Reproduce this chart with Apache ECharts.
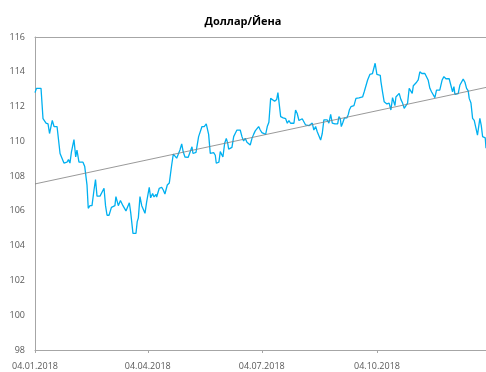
<!DOCTYPE html>
<html>
<head>
<meta charset="utf-8">
<title>Доллар/Йена</title>
<script src="https://cdn.jsdelivr.net/npm/echarts@6.0.0/dist/echarts.min.js"></script>
<style>
html, body { margin: 0; padding: 0; background: #fff; }
#chart { width: 486px; height: 372px; }
</style>
</head>
<body>
<div id="chart"></div>
<script>
// x = days since 04.01.2018
var dayOffsets = [
  0, 1.2, 4.8, 6.4, 8.8, 10.4, 11.6, 13.8, 15.2, 17.6,
  18.8, 20, 21.5, 23.1, 25.5, 26.7, 27.9, 29.1, 31.1, 31.9,
  32.5, 33.5, 35.1, 38.3, 39.7, 41.5, 42.5, 43.9, 45.5, 47.1,
  48.3, 49.5, 51.9, 55.1, 56.3, 57.5, 59.1, 61, 62.2, 63.8,
  64.6, 66.5, 68.2, 70.2, 72.6, 75.3, 76.4, 78.2, 80.6, 81.6,
  82.5, 83.8, 85.2, 86.4, 87.8, 89.1, 91.2, 92.3, 93.9, 95,
  96.6, 97.1, 99.2, 101.1, 102.4, 103.7, 105.6, 107.2, 108.3, 109.1,
  110.4, 111.7, 113.1, 114.4, 115.7, 117.1, 118.3, 119.7, 122.3, 123.7,
  125.3, 126.1, 128.5, 130.6, 131.9, 133.3, 135.1, 136.7, 137.8, 138.6,
  139.9, 141.2, 142.6, 143.9, 144.7, 145.8, 146.8, 147.9, 149, 150,
  151.4, 152.7, 153.8, 154.6, 155.9, 157.2, 158.6, 159.8, 161.2, 163.8,
  165.2, 166.5, 167.8, 169.2, 170.5, 171.8, 173.2, 174.5, 175.8, 177.2,
  178.5, 179.8, 181.1, 182.5, 184.1, 185.4, 186.7, 188.1, 189.4, 191.3,
  192.9, 193.9, 194.7, 196.1, 198.1, 200.1, 201.4, 202.7, 204, 206.7,
  208, 209.3, 210.7, 212, 213.3, 214.7, 216, 217.3, 218.7, 220,
  221.3, 222.6, 224, 225.3, 226.6, 228, 229.3, 230.6, 232, 233.3,
  234.6, 236, 237.3, 239.4, 241.6, 242.6, 243.7, 244.5, 245.6, 246.9,
  249, 250.1, 250.9, 252.2, 254.6, 256.2, 258.6, 261.5, 262.8, 264.1,
  265.5, 267.3, 269.4, 270.7, 271.5, 272.9, 273.9, 275.6, 276.1, 277.4,
  278.7, 280.9, 282.7, 284.1, 285.4, 286.7, 287.3, 288.1, 289.4, 290.7,
  292.1, 293.4, 294.7, 296.1, 297.4, 298.7, 300, 301.1, 302, 303.2,
  304.6, 305.9, 307.2, 308.8, 311.2, 312.6, 313.8, 315.2, 316.5, 317.8,
  319.2, 320.5, 323.1, 325, 326.4, 328, 329.3, 330.6, 332, 333.3,
  334.4, 335.2, 336.5, 337.8, 339.2, 340.5, 341.8, 343.2, 344.5, 345.8,
  346.6, 348, 349.3, 350.6, 351.9, 353.2, 354.3, 355.1, 356.2, 357.3,
  358.3, 359.4, 360
];
var usdJpy = [
  112.8, 113.05, 113.05, 111.3, 111.05, 111.0, 110.45, 111.2, 110.85, 110.85,
  110.8, 109.3, 109.4, 108.75, 108.8, 108.95, 108.75, 109.4, 110.1, 110.1,
  109.1, 109.5, 108.8, 108.8, 108.55, 107.5, 106.15, 106.3, 106.3, 107.2,
  107.8, 106.85, 106.85, 107.3, 106.3, 105.75, 105.75, 106.2, 106.1, 106.3,
  106.82, 106.3, 106.6, 106.3, 106.0, 106.47, 105.9, 104.71, 104.71, 105.38,
  105.6, 106.82, 106.3, 106.4, 105.86, 106.5, 107.36, 106.75, 107.0, 106.8,
  106.95, 106.8, 107.3, 107.36, 107.2, 106.97, 107.49, 107.6, 107.7, 108.64,
  109.26, 109.3, 109.03, 109.03, 109.5, 109.85, 109.4, 109.1, 109.08, 109.06,
  109.69, 109.3, 109.37, 110.27, 110.35, 110.85, 110.85, 111.0, 110.9, 110.4,
  109.31, 109.25, 109.35, 109.2, 108.74, 108.85, 108.8, 109.41, 109.41, 109.1,
  109.89, 110.17, 109.9, 109.55, 109.5, 109.65, 110.27, 110.45, 110.65, 110.65,
  110.27, 110.02, 110.17, 109.95, 110.0, 109.79, 110.17, 110.4, 110.6, 110.6,
  110.85, 110.65, 110.5, 110.45, 110.4, 110.85, 111.1, 112.47, 112.55, 112.3,
  112.4, 112.8, 112.7, 111.42, 111.35, 111.3, 111.04, 111.2, 111.04, 111.04,
  111.8, 111.6, 111.2, 111.1, 111.3, 111.2, 110.94, 111.0, 110.9, 110.79,
  111.05, 110.65, 110.85, 110.55, 110.65, 110.07, 110.45, 111.23, 111.2, 111.23,
  111.05, 111.55, 111.05, 111.0, 111.0, 111.42, 111.3, 110.85, 111.05, 111.33,
  111.35, 111.55, 111.8, 111.99, 112.05, 112.47, 112.5, 112.55, 112.85, 112.95,
  113.53, 113.85, 113.9, 113.97, 114.49, 113.85, 113.8, 113.8, 113.45, 112.85,
  112.28, 112.15, 112.2, 111.8, 112.51, 112.4, 112.05, 112.55, 112.5, 112.76,
  112.4, 112.2, 111.9, 111.85, 112.2, 113.05, 113.0, 112.76, 113.2, 113.2,
  113.4, 113.53, 114.0, 113.9, 113.9, 113.8, 113.53, 113.05, 112.85, 112.76,
  112.51, 112.95, 112.95, 113.53, 113.72, 113.6, 113.5, 113.6, 113.55, 112.85,
  113.15, 112.7, 112.7, 112.75, 113.24, 113.33, 113.58, 113.4, 113.05, 112.9,
  112.47, 112.2, 111.32, 111.2, 111.2, 110.36, 110.36, 111.32, 110.92, 110.27,
  110.27, 110.2, 109.6
];
// linear trend, read at both ends of the range
var trendDays = [0, 360];
var trendValues = [107.55, 113.1];
var tickDays = [0, 90, 181, 273];
var tickLabels = ['04.01.2018', '04.04.2018', '04.07.2018', '04.10.2018'];

var chartDom = document.getElementById('chart');
var myChart = echarts.init(chartDom);

var rateData = dayOffsets.map(function (d, i) { return [d, usdJpy[i]]; });
var trendData = trendDays.map(function (d, i) { return [d, trendValues[i]]; });
var font = "'Open Sans', 'Liberation Sans', sans-serif";

var option = {
  animation: false,
  backgroundColor: '#ffffff',
  title: {
    text: 'Доллар/Йена',
    left: 'center',
    top: 11,
    textStyle: { fontFamily: font, fontSize: 11, fontWeight: 'bold', color: '#000000' }
  },
  grid: {
    left: 35,
    right: 0,
    top: 37,
    bottom: 22,
    outerBoundsMode: 'none'
  },
  xAxis: [
    {
      type: 'value',
      min: 0,
      max: 360,
      axisLine: { show: true, lineStyle: { color: '#a6a6a6', width: 1 } },
      axisTick: { show: true, length: 3, customValues: tickDays, lineStyle: { color: '#a6a6a6' } },
      axisLabel: {
        customValues: tickDays,
        margin: 12,
        fontFamily: font,
        fontSize: 9,
        color: '#595959',
        formatter: function (val) {
          var i = tickDays.indexOf(val);
          return i >= 0 ? tickLabels[i] : '';
        }
      },
      splitLine: { show: false }
    },
    {
      // top border of the plot area
      type: 'value',
      position: 'top',
      min: 0,
      max: 360,
      axisLine: { show: true, lineStyle: { color: '#a6a6a6', width: 1 } },
      axisTick: { show: false },
      axisLabel: { show: false },
      splitLine: { show: false }
    }
  ],
  yAxis: {
    type: 'value',
    min: 98,
    max: 116,
    interval: 2,
    axisLine: { show: true, lineStyle: { color: '#a6a6a6', width: 1 } },
    axisTick: { show: false },
    axisLabel: { margin: 10, fontFamily: font, fontSize: 9, color: '#595959' },
    splitLine: { show: false }
  },
  series: [
    {
      name: 'Доллар/Йена',
      type: 'line',
      data: rateData,
      showSymbol: false,
      lineStyle: { color: '#00b0f0', width: 1.3 },
      itemStyle: { color: '#00b0f0' },
      z: 2
    },
    {
      name: 'Тренд',
      type: 'line',
      data: trendData,
      showSymbol: false,
      lineStyle: { color: '#7f7f7f', width: 0.8 },
      itemStyle: { color: '#7f7f7f' },
      z: 3
    }
  ]
};
myChart.setOption(option);
</script>
</body>
</html>
